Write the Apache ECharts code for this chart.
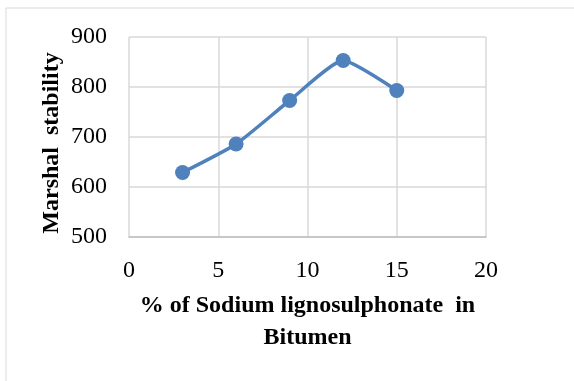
<!DOCTYPE html>
<html><head><meta charset="utf-8">
<script src="https://cdn.jsdelivr.net/npm/echarts@6/dist/echarts.min.js"></script>
<style>html,body{margin:0;padding:0;background:#fff}#c{width:574px;height:381px}</style>
</head><body><div id="c"></div>
<script>
const xValues = [3, 6, 9, 12, 15];
const stability = [629, 686, 773, 853, 793];
const xTitle = '% of Sodium lignosulphonate  in\nBitumen';
const yTitle = 'Marshal  stability';

const chart = echarts.init(document.getElementById('c'));
const font = '"Liberation Serif", "Times New Roman", serif';
chart.setOption({
  animation: false,
  backgroundColor: '#fff',
  graphic: [
    {type: 'rect', shape: {x: 6, y: 8, width: 700, height: 500}, style: {fill: 'none', stroke: '#d9d9d9', lineWidth: 1}, silent: true},
    {type: 'text', x: 52, y: 143, rotation: Math.PI / 2, silent: true,
     style: {text: yTitle, font: 'bold 24px ' + font, fill: '#000', align: 'center', verticalAlign: 'middle'}}
  ],
  grid: {left: 129, right: 88, top: 37, bottom: 144},
  xAxis: {
    type: 'value', min: 0, max: 20, interval: 5,
    name: xTitle, nameLocation: 'middle', nameGap: 53,
    nameTextStyle: {fontFamily: font, fontWeight: 'bold', fontSize: 24, color: '#000', lineHeight: 32},
    axisLine: {show: true, lineStyle: {color: '#bfbfbf', width: 1.5}},
    axisTick: {show: false},
    axisLabel: {fontFamily: font, fontSize: 24, color: '#000', margin: 22},
    splitLine: {show: true, lineStyle: {color: '#d9d9d9', width: 1.5}}
  },
  yAxis: {
    type: 'value', min: 500, max: 900, interval: 100,
    axisLine: {show: false},
    axisTick: {show: false},
    axisLabel: {fontFamily: font, fontSize: 24, color: '#000', margin: 22},
    splitLine: {show: true, lineStyle: {color: '#d9d9d9', width: 1.5}}
  },
  series: [{
    type: 'line', smooth: 0.18,
    data: xValues.map((x, i) => [x, stability[i]]),
    symbol: 'circle', symbolSize: 15,
    lineStyle: {color: '#4f81bd', width: 3.5},
    itemStyle: {color: '#4f81bd'}
  }]
});
</script></body></html>
